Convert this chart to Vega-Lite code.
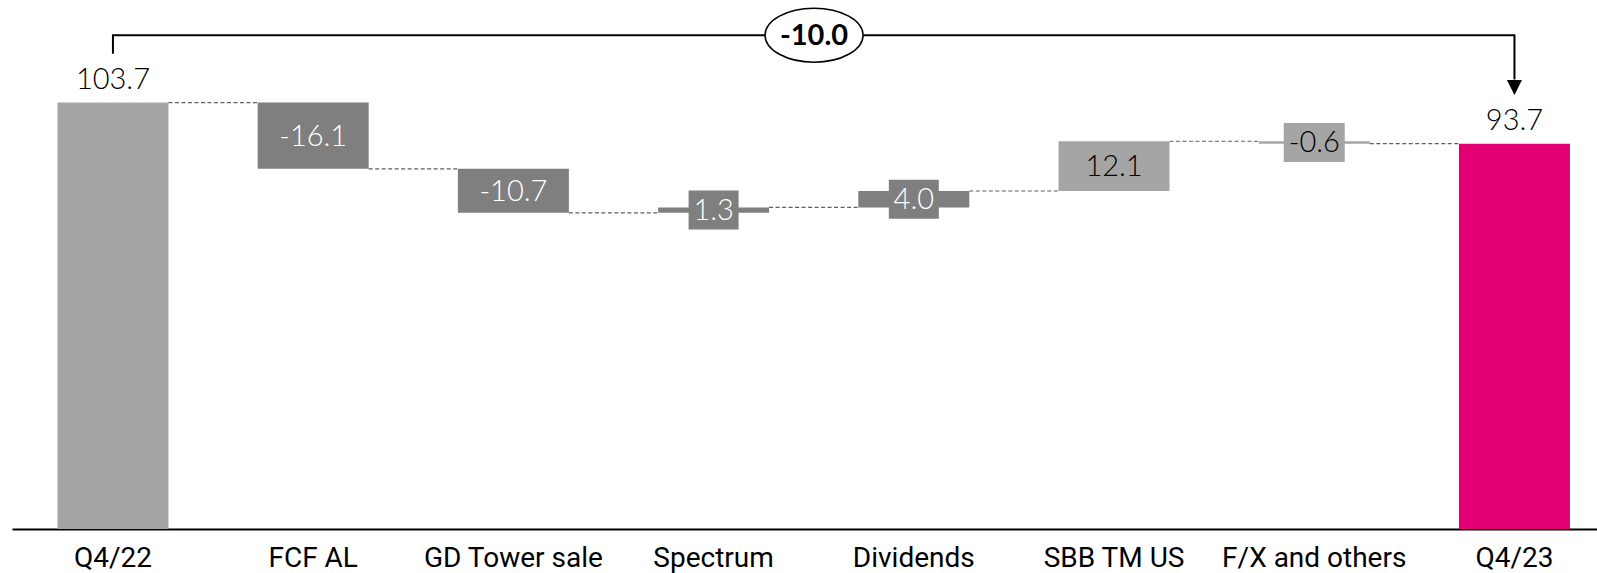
{
  "$schema": "https://vega.github.io/schema/vega-lite/v6.json",
  "width": 1585,
  "height": 529,
  "autosize": {"type": "none"},
  "padding": {"left": 12, "top": 0, "right": 0, "bottom": 44},
  "background": "white",
  "config": {"view": {"stroke": null}},
  "datasets": {
    "bars": [
      {"cat": "Q4/22", "start": 0, "end": 103.7, "label": "103.7", "kind": "total", "tone": "light", "next": "FCF AL"},
      {"cat": "FCF AL", "start": 103.7, "end": 87.6, "label": "-16.1", "kind": "delta", "tone": "dark", "next": "GD Tower sale"},
      {"cat": "GD Tower sale", "start": 87.6, "end": 76.9, "label": "-10.7", "kind": "delta", "tone": "dark", "next": "Spectrum"},
      {"cat": "Spectrum", "start": 76.9, "end": 78.2, "label": "1.3", "kind": "delta", "tone": "dark", "next": "Dividends"},
      {"cat": "Dividends", "start": 78.2, "end": 82.2, "label": "4.0", "kind": "delta", "tone": "dark", "next": "SBB TM US"},
      {"cat": "SBB TM US", "start": 82.2, "end": 94.3, "label": "12.1", "kind": "delta", "tone": "light", "next": "F/X and others"},
      {"cat": "F/X and others", "start": 94.3, "end": 93.7, "label": "-0.6", "kind": "delta", "tone": "light", "next": "Q4/23"},
      {"cat": "Q4/23", "start": 0, "end": 93.7, "label": "93.7", "kind": "total", "tone": "accent", "next": null}
    ],
    "bracket": [
      {"cat": "Q4/22", "y": 115.6, "step": 1},
      {"cat": "Q4/22", "y": 120.1, "step": 2},
      {"cat": "Q4/23", "y": 120.1, "step": 3},
      {"cat": "Q4/23", "y": 109.3, "step": 4}
    ],
    "arrow": [{"cat": "Q4/23", "y": 107.4}],
    "change": [{"cat": "Spectrum", "y": 120.1, "label": "-10.0"}]
  },
  "encoding": {
    "x": {
      "field": "cat",
      "type": "nominal",
      "sort": null,
      "title": null,
      "scale": {
        "domain": ["Q4/22", "FCF AL", "GD Tower sale", "Spectrum", "Dividends", "SBB TM US", "F/X and others", "Q4/23"],
        "paddingInner": 0.4456,
        "paddingOuter": 0.181,
        "align": 0.627
      },
      "axis": {
        "title": null,
        "domainColor": "#000000",
        "domainWidth": 2,
        "ticks": false,
        "tickSize": 0,
        "grid": false,
        "labelAngle": 0,
        "labelFont": "Roboto",
        "labelFontSize": 28,
        "labelColor": "#000000",
        "labelBaseline": "alphabetic",
        "labelPadding": 37,
        "labelLimit": 0,
        "labelOverlap": false
      }
    }
  },
  "layer": [
    {
      "data": {"name": "bars"},
      "mark": {"type": "bar"},
      "encoding": {
        "y": {"field": "start", "type": "quantitative", "scale": {"domain": [0, 128.65], "nice": false, "zero": true}, "axis": null},
        "y2": {"field": "end"},
        "color": {"field": "tone", "type": "nominal", "scale": {"domain": ["light", "dark", "accent"], "range": ["#a5a5a5", "#7f7f7f", "#e20074"]}, "legend": null}
      }
    },
    {
      "data": {"name": "bars"},
      "transform": [{"filter": "datum.next != null"}],
      "mark": {"type": "rule", "strokeDash": [4, 2.5], "strokeWidth": 1.2, "color": "#5f5f5f"},
      "encoding": {
        "x": {"field": "cat", "type": "nominal", "bandPosition": 1},
        "x2": {"field": "next", "bandPosition": 0},
        "y": {"field": "end", "type": "quantitative", "scale": {"domain": [0, 128.65], "nice": false, "zero": true}, "axis": null}
      }
    },
    {
      "data": {"name": "bars"},
      "transform": [
        {"filter": "datum.kind == 'delta' && abs(datum.end - datum.start) < 5 && length(datum.label) == 3"},
        {"calculate": "(datum.start + datum.end) / 2", "as": "mid"}
      ],
      "mark": {"type": "point", "filled": true, "opacity": 1, "strokeWidth": 0, "size": 1521, "shape": "M-1.282,-1L1.282,-1L1.282,1L-1.282,1Z"},
      "encoding": {
        "y": {"field": "mid", "type": "quantitative", "scale": {"domain": [0, 128.65], "nice": false, "zero": true}, "axis": null},
        "color": {"field": "tone", "type": "nominal", "legend": null}
      }
    },
    {
      "data": {"name": "bars"},
      "transform": [
        {"filter": "datum.kind == 'delta' && abs(datum.end - datum.start) < 5 && length(datum.label) == 4"},
        {"calculate": "(datum.start + datum.end) / 2", "as": "mid"}
      ],
      "mark": {"type": "point", "filled": true, "opacity": 1, "strokeWidth": 0, "size": 1521, "shape": "M-1.564,-1L1.564,-1L1.564,1L-1.564,1Z"},
      "encoding": {
        "y": {"field": "mid", "type": "quantitative", "scale": {"domain": [0, 128.65], "nice": false, "zero": true}, "axis": null},
        "color": {"field": "tone", "type": "nominal", "legend": null}
      }
    },
    {
      "data": {"name": "bars"},
      "transform": [
        {"filter": "datum.kind == 'delta'"},
        {"calculate": "(datum.start + datum.end) / 2", "as": "mid"}
      ],
      "mark": {"type": "text", "font": "Lato", "fontWeight": 300, "fontSize": 29, "baseline": "middle", "align": "center", "dy": 1},
      "encoding": {
        "y": {"field": "mid", "type": "quantitative", "scale": {"domain": [0, 128.65], "nice": false, "zero": true}, "axis": null},
        "text": {"field": "label"},
        "color": {"condition": {"test": "datum.tone == 'dark'", "value": "#ffffff"}, "value": "#000000"}
      }
    },
    {
      "data": {"name": "bars"},
      "transform": [{"filter": "datum.kind == 'total'"}],
      "mark": {"type": "text", "font": "Lato", "fontWeight": 300, "fontSize": 29, "baseline": "alphabetic", "align": "center", "dy": -14, "color": "#000000"},
      "encoding": {
        "y": {"field": "end", "type": "quantitative", "scale": {"domain": [0, 128.65], "nice": false, "zero": true}, "axis": null},
        "text": {"field": "label"}
      }
    },
    {
      "data": {"name": "bracket"},
      "mark": {"type": "line", "color": "#000000", "strokeWidth": 2, "strokeJoin": "miter"},
      "encoding": {
        "y": {"field": "y", "type": "quantitative", "scale": {"domain": [0, 128.65], "nice": false, "zero": true}, "axis": null},
        "order": {"field": "step", "type": "quantitative"}
      }
    },
    {
      "data": {"name": "arrow"},
      "mark": {"type": "point", "filled": true, "opacity": 1, "color": "#000000", "strokeWidth": 0, "size": 225, "shape": "M-1,-1L1,-1L0,1Z"},
      "encoding": {
        "y": {"field": "y", "type": "quantitative", "scale": {"domain": [0, 128.65], "nice": false, "zero": true}, "axis": null}
      }
    },
    {
      "data": {"name": "change"},
      "mark": {"type": "point", "filled": false, "opacity": 1, "fill": "#ffffff", "fillOpacity": 1, "stroke": "#000000", "strokeWidth": 1.5, "size": 2916, "shape": "M-1.815,0C-1.815,-0.552,-1.002,-1,0,-1C1.002,-1,1.815,-0.552,1.815,0C1.815,0.552,1.002,1,0,1C-1.002,1,-1.815,0.552,-1.815,0Z"},
      "encoding": {
        "x": {"field": "cat", "type": "nominal", "bandPosition": 1.405},
        "y": {"field": "y", "type": "quantitative", "scale": {"domain": [0, 128.65], "nice": false, "zero": true}, "axis": null}
      }
    },
    {
      "data": {"name": "change"},
      "mark": {"type": "text", "font": "Lato", "fontWeight": "bold", "fontSize": 29, "baseline": "middle", "align": "center", "dy": 1, "color": "#000000"},
      "encoding": {
        "x": {"field": "cat", "type": "nominal", "bandPosition": 1.405},
        "y": {"field": "y", "type": "quantitative", "scale": {"domain": [0, 128.65], "nice": false, "zero": true}, "axis": null},
        "text": {"field": "label"}
      }
    }
  ]
}
